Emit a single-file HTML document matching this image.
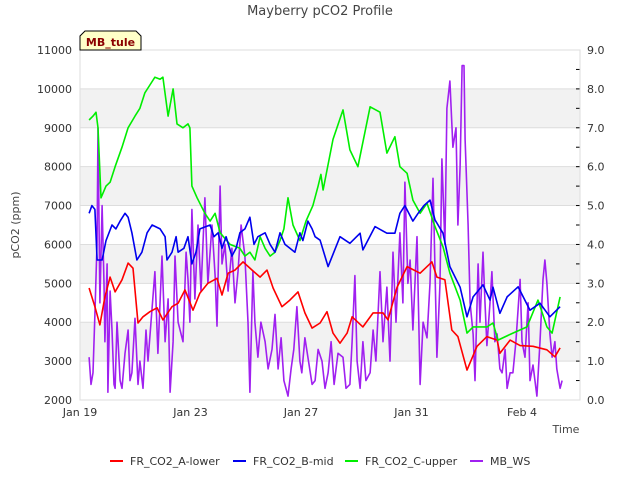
<!DOCTYPE html>
<html><head><meta charset="utf-8"><style>
body{margin:0;background:#fff;}
svg text{font-family:"DejaVu Sans","Liberation Sans",sans-serif;}
</style></head><body>
<svg id="chart" width="640" height="480" viewBox="0 0 640 480" xmlns="http://www.w3.org/2000/svg">
<text x="320" y="15" text-anchor="middle" font-size="13" fill="#444">Mayberry pCO2 Profile</text>
<g id="grid"></g>
<g id="series"></g>
<g id="axes"></g>
<text x="19" y="225" text-anchor="middle" font-size="11" fill="#444" transform="rotate(-90 19 225)">pCO2 (ppm)</text>
<text x="566" y="433" text-anchor="middle" font-size="11" fill="#444">Time</text>
<g>
<path d="M80,50 L80,36 L85,31 L136,31 L141,36 L141,50 Z" fill="#ffffc8" stroke="#000" stroke-width="1"/>
<text x="110.5" y="46" text-anchor="middle" font-size="11" font-weight="bold" fill="#8b0000">MB_tule</text>
</g>
<g id="legend"></g>
</svg>
<script>
const leftTicks=[2000,3000,4000,5000,6000,7000,8000,9000,10000,11000];
const rightTicks=[0,1,2,3,4,5,6,7,8,9];
const dateTicks=[0,4,8,12,16];
const dateLabels=["Jan 19","Jan 23","Jan 27","Jan 31","Feb 4"];
const seriesNames=["FR_CO2_A-lower","FR_CO2_B-mid","FR_CO2_C-upper","MB_WS"];
const seriesColors=["#ff0000","#0000ee","#00ee00","#a020f0"];

const aT=[.33,.54,.72,.90,1.09,1.27,1.52,1.74,1.92,2.10,2.28,2.53,2.79,3.00,3.33,3.55,3.80,4.09,4.34,4.63,4.96,5.14,5.36,5.61,5.90,6.23,6.52,6.77,6.99,7.31,7.60,7.89,8.14,8.40,8.69,8.94,9.16,9.41,9.67,9.85,10.24,10.61,10.97,11.15,11.48,11.84,12.31,12.74,12.92,13.21,13.46,13.68,14.01,14.37,14.73,15.10,15.20,15.57,15.93,16.40,16.90,17.19,17.38];
const aV=[4880,4400,3930,4650,5160,4780,5090,5520,5390,3980,4140,4270,4370,4060,4400,4490,4830,4310,4750,5000,5130,4700,5260,5340,5550,5340,5160,5340,4880,4400,4570,4780,4240,3850,3980,4270,3720,3460,3720,4140,3880,4240,4240,4060,4900,5430,5260,5550,5160,5090,3800,3630,2770,3380,3630,3540,3200,3540,3400,3380,3290,3110,3340];

const bT=[.33,.43,.54,.62,.80,.94,1.16,1.30,1.45,1.63,1.74,1.88,2.06,2.24,2.43,2.61,2.90,3.08,3.15,3.33,3.48,3.55,3.76,3.91,4.05,4.20,4.34,4.71,4.85,5.00,5.14,5.29,5.50,5.65,5.79,5.97,6.15,6.30,6.44,6.70,6.88,7.06,7.24,7.42,7.60,7.78,7.96,8.07,8.25,8.40,8.51,8.69,8.98,9.41,9.77,10.14,10.24,10.68,11.11,11.40,11.58,11.76,12.05,12.24,12.45,12.67,12.85,13.14,13.39,13.76,14.01,14.23,14.59,14.84,14.95,15.20,15.46,15.86,16.29,16.65,17.01,17.38];
const bV=[6800,7000,6900,5600,5600,6100,6500,6400,6600,6800,6700,6300,5600,5800,6300,6500,6400,6200,5600,5800,6200,5800,5900,6200,5500,5800,6400,6500,6200,6300,5900,6200,5700,5900,6300,6400,6700,6000,6200,6300,6000,5800,6300,6000,5900,5800,6300,6100,6600,6400,6200,6110,5430,6200,6030,6290,5860,6460,6290,6290,6800,7000,6600,6800,7000,7140,6630,6290,5430,4900,4140,4650,4960,4570,4900,4230,4650,4910,4310,4490,4140,4400];

const cT=[.33,.47,.58,.65,.76,.94,1.09,1.27,1.52,1.74,1.99,2.17,2.35,2.53,2.71,2.90,3.00,3.19,3.37,3.51,3.73,3.91,3.98,4.05,4.24,4.52,4.71,4.89,5.07,5.43,5.79,5.97,6.15,6.33,6.52,6.70,6.88,7.06,7.24,7.38,7.53,7.71,7.96,8.18,8.43,8.62,8.72,8.80,9.16,9.52,9.77,10.06,10.50,10.86,11.11,11.40,11.58,11.84,12.05,12.31,12.56,12.85,13.14,13.39,13.76,14.01,14.23,14.73,14.95,15.13,15.67,16.18,16.58,16.90,17.09,17.38];
const cV=[9200,9300,9400,9000,7200,7500,7600,8000,8500,9000,9300,9500,9900,10100,10300,10250,10300,9300,10000,9100,9000,9100,9000,7500,7200,6800,6600,6800,6300,6000,5900,5700,5800,5600,6200,5900,5700,5800,6100,6400,7200,6500,6100,6600,7000,7500,7800,7400,8700,9460,8430,8000,9540,9400,8350,8770,8000,7830,7140,6800,7060,6460,5940,5260,4570,3720,3880,3880,3980,3540,3720,3880,4570,3880,3720,4650];

const wT=[.33,.40,.47,.54,.62,.65,.72,.80,.87,.90,.98,1.01,1.09,1.16,1.23,1.27,1.34,1.38,1.45,1.52,1.63,1.74,1.81,1.88,1.99,2.10,2.17,2.28,2.39,2.46,2.57,2.71,2.82,2.97,3.08,3.19,3.26,3.37,3.44,3.55,3.73,3.84,3.91,3.98,4.05,4.16,4.27,4.38,4.52,4.63,4.78,4.89,4.96,5.07,5.14,5.25,5.36,5.50,5.61,5.72,5.83,5.97,6.08,6.15,6.26,6.33,6.44,6.55,6.70,6.81,6.95,7.06,7.17,7.28,7.38,7.53,7.64,7.74,7.85,7.96,8.03,8.14,8.25,8.40,8.51,8.62,8.76,8.87,8.98,9.09,9.20,9.34,9.52,9.63,9.77,9.85,9.95,10.03,10.14,10.24,10.35,10.50,10.61,10.71,10.86,10.97,11.11,11.22,11.33,11.44,11.58,11.69,11.76,11.87,11.95,12.05,12.20,12.31,12.42,12.56,12.67,12.78,12.92,13.03,13.10,13.21,13.28,13.39,13.50,13.61,13.68,13.76,13.83,13.90,13.94,14.05,14.12,14.23,14.30,14.41,14.48,14.59,14.66,14.73,14.84,14.91,15.02,15.10,15.20,15.28,15.39,15.46,15.57,15.67,15.78,15.93,16.00,16.11,16.22,16.29,16.40,16.54,16.65,16.76,16.83,16.90,17.01,17.09,17.19,17.26,17.38,17.45];
const wV=[1.1,0.4,0.7,2.2,4.1,7.0,2.5,5.0,3.0,1.5,3.5,0.2,2.8,1.8,0.4,0.3,2.0,1.5,0.5,0.3,1.2,1.8,0.5,0.7,2.1,0.4,1.0,0.3,1.8,1.0,2.0,3.3,1.2,3.7,1.5,2.6,0.2,1.5,3.7,2.0,1.5,3.8,3.1,2.0,4.9,2.6,4.5,2.8,5.2,3.0,4.5,3.2,1.9,5.5,3.5,4.0,2.8,3.9,2.5,3.3,4.5,3.7,2.0,0.2,3.3,2.0,1.1,2.0,1.5,0.8,1.3,2.2,0.8,1.6,0.5,0.1,0.8,1.3,2.4,1.0,0.7,1.6,1.1,0.4,0.5,1.3,1.0,0.3,0.7,1.5,0.4,1.2,1.1,0.3,0.4,1.5,3.2,1.0,0.3,1.5,0.5,0.7,1.8,1.0,3.3,1.5,2.9,1.0,3.8,2.0,4.3,2.5,5.6,3.0,3.6,1.8,4.2,0.4,2.0,1.6,3.0,5.7,1.1,3.0,6.2,4.0,7.5,8.2,6.5,7.0,4.5,6.0,8.6,8.6,6.7,4.5,2.5,1.7,0.5,3.5,2.0,3.8,2.5,1.4,2.5,3.3,1.5,1.7,0.8,0.7,1.3,0.3,0.7,0.7,1.5,3.1,1.5,1.1,2.5,0.5,0.9,0.1,1.5,3.1,3.6,3.0,1.7,1.1,1.5,0.8,0.3,0.5];

const X0=80,X1=580,Y0=400,Y1=50,PXD=27.625;
const xs=d=>X0+d*PXD;
const yL=v=>Y0-(v-2000)/9000*(Y0-Y1);
const yR=v=>Y0-v/9*(Y0-Y1);
const NS="http://www.w3.org/2000/svg";
function mk(tag,attrs,parent){const e=document.createElementNS(NS,tag);for(const k in attrs)e.setAttribute(k,attrs[k]);parent.appendChild(e);return e;}
const grid=document.getElementById('grid'),axes=document.getElementById('axes'),ser=document.getElementById('series'),leg=document.getElementById('legend');

for(let i=0;i<leftTicks.length-1;i++){
  if(i%2===1){const r=mk('rect',{x:X0,y:yL(leftTicks[i+1]),width:X1-X0,height:yL(leftTicks[i])-yL(leftTicks[i+1]),fill:'#f2f2f2'},grid);
  
  }
}
leftTicks.forEach(v=>{
  const l=mk('line',{x1:X0,x2:X1,y1:yL(v),y2:yL(v),stroke:'#dddddd','stroke-width':1},grid);
  
  
  const t=mk('text',{x:72,y:yL(v)+4,'text-anchor':'end','font-size':11,fill:'#333'},axes);t.textContent=v;
  
  
});
rightTicks.forEach(v=>{
  const t=mk('text',{x:587,y:yR(v)+4,'font-size':11,fill:'#333'},axes);t.textContent=v.toFixed(1);
  
  
});
for(let v=0;v<=9;v+=0.5){const l=mk('line',{x1:X1-4,x2:X1,y1:yR(v),y2:yR(v),stroke:'#000','stroke-width':1},axes);
  
  }
const fr=mk('rect',{x:X0,y:Y1,width:X1-X0,height:Y0-Y1,fill:'none',stroke:'#dddddd'},axes);


dateTicks.forEach((d,i)=>{
  const t=mk('text',{x:xs(d),y:416,'text-anchor':'middle','font-size':11,fill:'#333'},axes);t.textContent=dateLabels[i];
  
  
});
function line(T,V,yf,color,name){
  const p=mk('polyline',{points:T.map((t,i)=>xs(t).toFixed(1)+','+yf(V[i]).toFixed(1)).join(' '),fill:'none',stroke:color,'stroke-width':1.6,'stroke-linejoin':'round'},ser);
  
  
}
line(wT,wV,yR,seriesColors[3],'series-mb-ws');
line(aT,aV,yL,seriesColors[0],'series-a-lower');
line(cT,cV,yL,seriesColors[2],'series-c-upper');
line(bT,bV,yL,seriesColors[1],'series-b-mid');

const legX=[110,233,345,470];
seriesNames.forEach((n,i)=>{
  const l=mk('line',{x1:legX[i],x2:legX[i]+13,y1:461,y2:461,stroke:seriesColors[i],'stroke-width':2},leg);
  
  
  const t=mk('text',{x:legX[i]+20,y:465,'font-size':11,fill:'#333'},leg);t.textContent=n;
  
  
});
</script>
</body></html>
